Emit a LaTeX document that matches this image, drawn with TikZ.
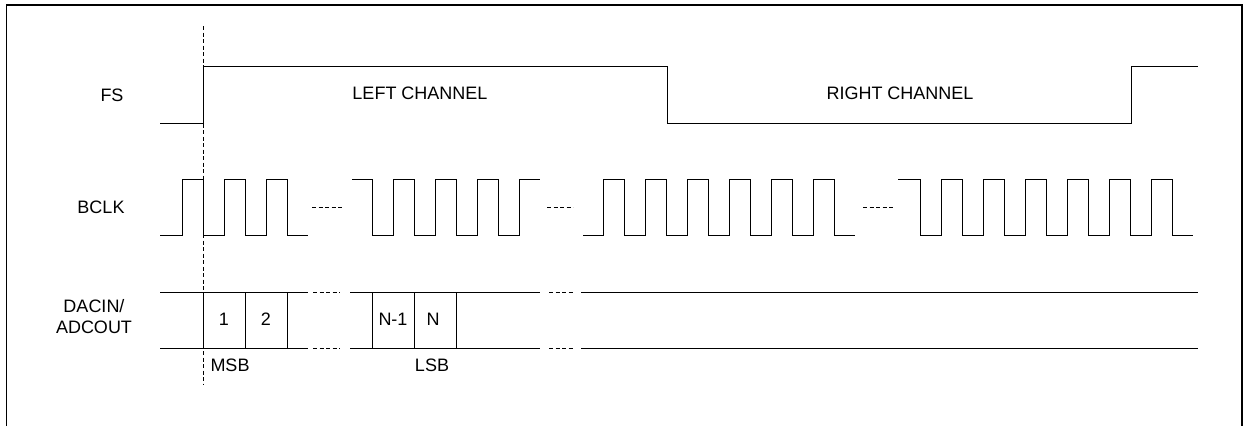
\documentclass[tikz,border=0pt]{standalone}
\usepackage{fontspec}
\setmainfont{Liberation Sans}
\begin{document}
\begin{tikzpicture}[x=1pt, y=-1pt, line width=1pt,
  lbl/.style={inner sep=0pt, font=\fontsize{18}{21}\selectfont},
  gap/.style={dash pattern=on 4pt off 2.5pt},
  wave/.style={line join=miter}]
\useasboundingbox (0,0) rectangle (1244,426);
\draw[line width=1.5pt] (6.5,426) -- (6.5,5) -- (1242,5) -- (1242,426);
\node[lbl] (tfs) at (112,95){FS};
\node[lbl] (tbclk) at (101,207){BCLK};
\node[lbl, align=center] (tdata) at (94,317){DACIN/\\ADCOUT};
\node[lbl] (tleft) at (420,93){LEFT CHANNEL};
\node[lbl] (tright) at (900,93){RIGHT CHANNEL};
\node[lbl] (tb1) at (224,319){1};
\node[lbl] (tb2) at (266,319){2};
\node[lbl] (tbn1) at (393,319){N-1};
\node[lbl] (tbn) at (433,319){N};
\node[lbl, anchor=west] (tmsb) at (210,365){MSB};
\node[lbl] (tlsb) at (432,365){LSB};
\draw[wave] (160,123) -- (203,123) -- (203,66) -- (667,66) -- (667,123) -- (1131,123) -- (1131,66) -- (1198,66);
\draw[wave] (160,235) -- (182,235) foreach \i in {1,...,3}{ -- ++(0,-56) -- ++(21,0) -- ++(0,56) -- ++(21,0)};
\draw[wave] (352,179) -- (372,179) foreach \i in {1,...,4}{ -- ++(0,56) -- ++(21,0) -- ++(0,-56) -- ++(21,0)};
\draw[wave] (583,235) -- (603,235) foreach \i in {1,...,6}{ -- ++(0,-56) -- ++(21,0) -- ++(0,56) -- ++(21,0)};
\draw[wave] (898,179) -- (920,179) -- ++(0,56) foreach \i in {1,...,6}{ -- ++(21,0) -- ++(0,-56) -- ++(21,0) -- ++(0,56)} -- ++(21,0);
\draw[gap] (312,207) -- (344,207);
\draw[gap] (547,207) -- (573,207);
\draw[gap] (863,207) -- (893,207);
\draw (160,292) -- (308,292);
\draw (160,348) -- (308,348);
\foreach \x in {203,245,287}
  \draw (\x,292) -- (\x,348);
\draw (350,292) -- (540,292);
\draw (350,348) -- (540,348);
\foreach \x in {372,414,456}
  \draw (\x,292) -- (\x,348);
\draw (581,292) -- (1198,292);
\draw (581,348) -- (1198,348);
\draw[gap] (313,292) -- (340,292);
\draw[gap] (313,348) -- (340,348);
\draw[gap] (549,292) -- (574,292);
\draw[gap] (549,348) -- (574,348);
\draw[dash pattern=on 4pt off 2.5pt] (203,26) -- (203,385);
\end{tikzpicture}
\end{document}
